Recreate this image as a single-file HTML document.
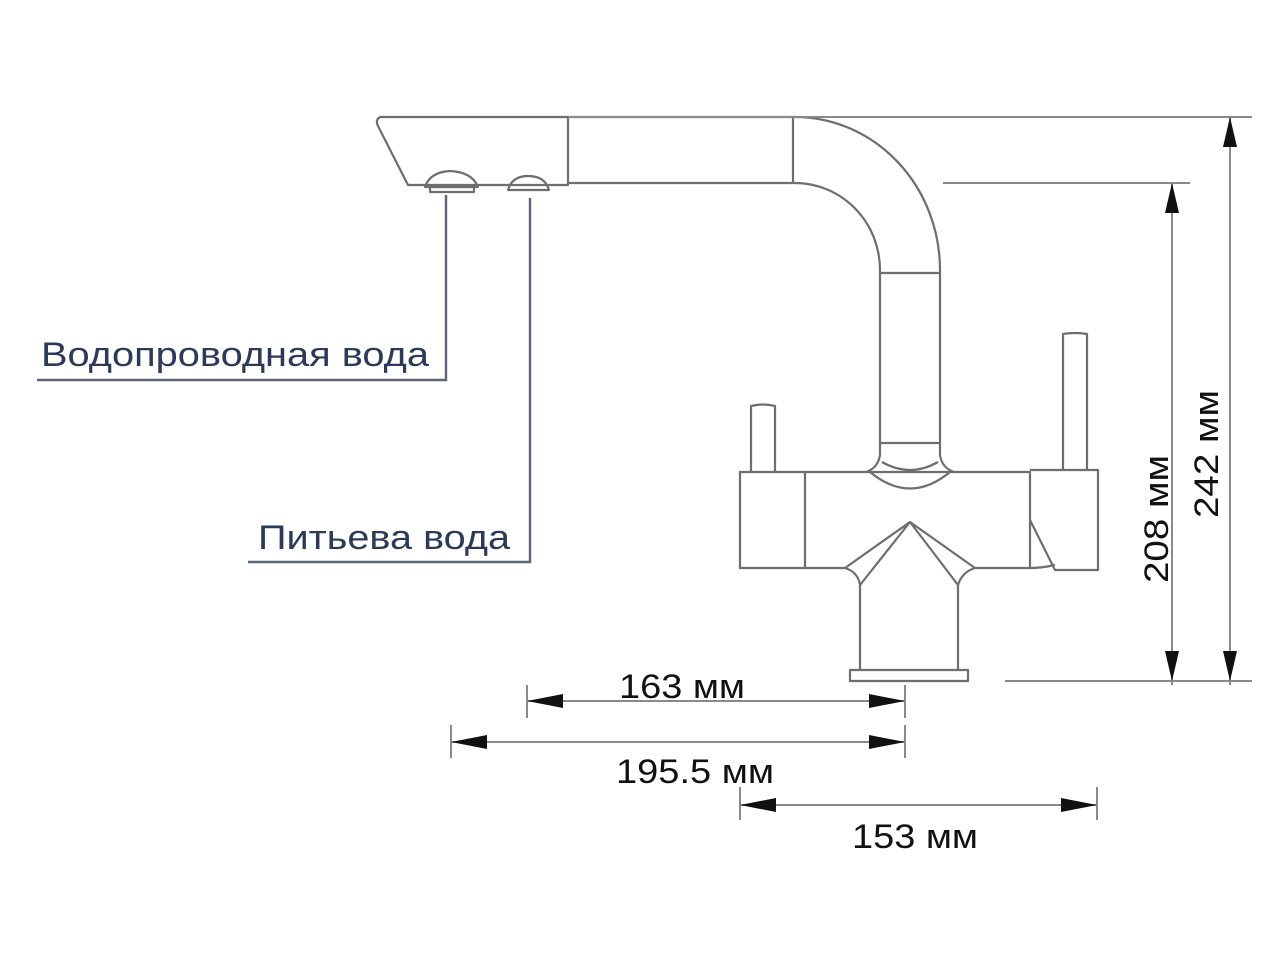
<!DOCTYPE html>
<html><head><meta charset="utf-8"><style>
html,body{margin:0;padding:0;background:#fff;}
svg{display:block;}
.l{fill:none;stroke:#6e6e6e;stroke-width:2.2;stroke-linejoin:round;}
.d{fill:none;stroke:#8a8a8a;stroke-width:2;}
.t{font-family:"Liberation Sans",sans-serif;fill:#111;font-size:34px;}
.b{font-family:"Liberation Sans",sans-serif;fill:#2b3a58;font-size:34px;}
</style></head><body>
<svg width="1280" height="960" viewBox="0 0 1280 960" xmlns="http://www.w3.org/2000/svg">
<path class="l" d="M380,117 L795,117 A145,153 0 0 1 940,270 L940,455"/>
<path class="l" d="M380,117 Q375,120 378,126 L408,185 L568,185"/>
<path class="l" d="M568,117 L568,185 L568,183 L795,183 A85,87 0 0 1 880,270 L880,455"/>
<line class="l" x1="793" y1="117" x2="793" y2="183"/>
<line class="l" x1="880" y1="273" x2="940" y2="273"/>
<line class="l" x1="880" y1="443" x2="940" y2="443"/>
<path class="l" d="M425,187 Q430,172 450,171 Q472,172 478,187 Z"/>
<rect class="l" x="430" y="187" width="44" height="5"/>
<path class="l" d="M508,190 Q512,176 528,176 Q545,176 549,190 Z"/>
<path fill="none" stroke="#5c6578" stroke-width="2.4" d="M446,195 L446,380 L37,380"/>
<path fill="none" stroke="#5c6578" stroke-width="2.4" d="M530,198 L530,562 L248,562"/>
<text class="b" x="41" y="366" textLength="388" lengthAdjust="spacingAndGlyphs">Водопроводная вода</text>
<text class="b" x="258" y="549" textLength="252" lengthAdjust="spacingAndGlyphs">Питьева вода</text>
<path class="l" d="M880,455 Q878,468 866,472"/>
<path class="l" d="M940,455 Q942,468 954,472"/>
<path class="l" d="M882,462 Q910,478 938,462"/>
<path class="l" d="M870,472 Q910,505 950,472"/>
<rect class="l" x="740" y="472" width="65" height="96"/>
<path class="l" d="M805,472 L1030,472 L1030,568 L975,568"/>
<path class="l" d="M805,568 L845,568"/>
<path class="l" d="M751,472 L751,406 Q763,403 775,406 L775,472"/>
<path class="l" d="M1030,470 L1098,470 L1098,570 L1055,570 L1030,520"/>
<path class="l" d="M1030,568 Q1042,568 1055,565"/>
<path class="l" d="M1063,470 L1063,334 Q1075,332 1087,334 L1087,470"/>
<path class="l" d="M845,568 L910,522 L975,568"/>
<path class="l" d="M860,585 L910,522 L958,585"/>
<path class="l" d="M845,568 Q858,572 860,585"/>
<path class="l" d="M975,568 Q962,572 958,585"/>
<line class="l" x1="860" y1="585" x2="860" y2="670"/>
<line class="l" x1="958" y1="585" x2="958" y2="670"/>
<rect class="l" x="850" y="670" width="118" height="11"/>
<line class="d" x1="943" y1="183" x2="1190" y2="183"/>
<line class="d" x1="568" y1="117" x2="1252" y2="117"/>
<line class="d" x1="1005" y1="681" x2="1252" y2="681"/>
<line class="d" x1="1172" y1="183" x2="1172" y2="685"/>
<line class="d" x1="1230" y1="117" x2="1230" y2="685"/>
<polygon fill="#111" points="1172,183 1165,213 1179,213"/>
<polygon fill="#111" points="1172,681 1165,651 1179,651"/>
<polygon fill="#111" points="1230,117 1223,147 1237,147"/>
<polygon fill="#111" points="1230,681 1223,651 1237,651"/>
<text class="t" transform="translate(1168,583) rotate(-90)" textLength="128" lengthAdjust="spacingAndGlyphs">208 мм</text>
<text class="t" transform="translate(1218,518) rotate(-90)" textLength="128" lengthAdjust="spacingAndGlyphs">242 мм</text>
<line class="d" x1="527" y1="685" x2="527" y2="718"/>
<line class="d" x1="905" y1="685" x2="905" y2="718"/>
<line class="d" x1="451" y1="725" x2="451" y2="758"/>
<line class="d" x1="905" y1="725" x2="905" y2="758"/>
<line class="d" x1="740" y1="787" x2="740" y2="820"/>
<line class="d" x1="1097" y1="787" x2="1097" y2="820"/>
<line class="d" x1="527" y1="701" x2="905" y2="701"/>
<line class="d" x1="451" y1="742" x2="905" y2="742"/>
<line class="d" x1="740" y1="805" x2="1097" y2="805"/>
<polygon fill="#111" points="527,701 563,694 563,708"/>
<polygon fill="#111" points="905,701 869,694 869,708"/>
<polygon fill="#111" points="451,742 487,735 487,749"/>
<polygon fill="#111" points="905,742 869,735 869,749"/>
<polygon fill="#111" points="740,805 776,798 776,812"/>
<polygon fill="#111" points="1097,805 1061,798 1061,812"/>
<text class="t" x="619" y="698" textLength="126" lengthAdjust="spacingAndGlyphs">163 мм</text>
<text class="t" x="616" y="783" textLength="158" lengthAdjust="spacingAndGlyphs">195.5 мм</text>
<text class="t" x="852" y="848" textLength="126" lengthAdjust="spacingAndGlyphs">153 мм</text>
</svg>
</body></html>
